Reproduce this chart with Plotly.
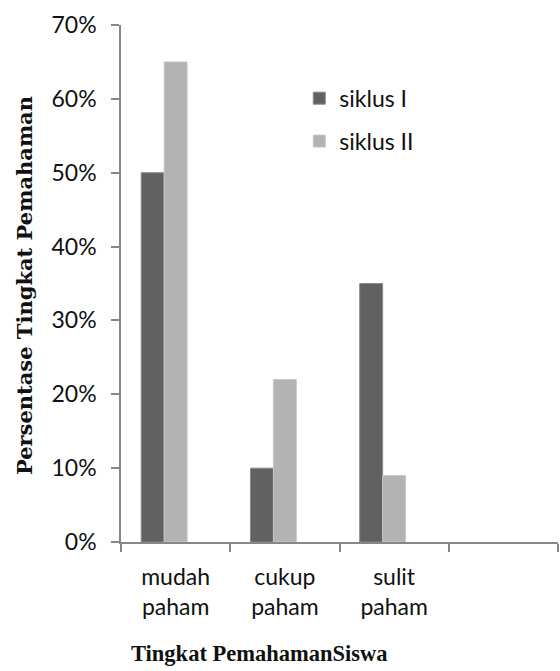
import plotly.graph_objects as go

categories = ["mudah<br>paham", "cukup<br>paham", "sulit<br>paham", " "]
siklus_1 = [0.50, 0.10, 0.35, None]
siklus_2 = [0.65, 0.22, 0.09, None]
series_3 = [None, None, None, None]  # empty third series (reserves a slot, as in the original)
y_ticks = [0, 0.1, 0.2, 0.3, 0.4, 0.5, 0.6, 0.7]
y_tick_labels = ["0%", "10%", "20%", "30%", "40%", "50%", "60%", "70%"]

tick_font = dict(family="Lato, Open Sans, sans-serif", size=23, color="#111111")
ytitle_font = dict(family="DejaVu Serif, serif", size=21, color="#111111")
xtitle_font = dict(family="Liberation Serif, serif", size=22.5, color="#111111")

fig = go.Figure()
fig.add_trace(go.Bar(x=categories, y=siklus_1, name="siklus I", legendgroup="a",
                     marker=dict(color="#616161", line=dict(color="#8a8a8a", width=1))))
fig.add_trace(go.Bar(x=categories, y=siklus_2, name="siklus II", legendgroup="b",
                     marker=dict(color="#b3b3b3", line=dict(color="#c8c8c8", width=1))))
fig.add_trace(go.Bar(x=categories, y=series_3, name="", showlegend=False,
                     marker=dict(color="#dddddd", line=dict(width=0))))

fig.update_layout(
    width=560, height=671,
    margin=dict(l=121, r=2, t=25, b=129),
    plot_bgcolor="white", paper_bgcolor="white",
    barmode="group", bargap=0.37, bargroupgap=0,
    showlegend=True,
    legend=dict(x=0.408, y=0.90, xanchor="left", yanchor="top", font=tick_font,
                tracegroupgap=10, traceorder="grouped", bgcolor="rgba(0,0,0,0)",
                itemwidth=30),
    xaxis=dict(type="category", showline=True, linecolor="#878787", linewidth=1.5,
               ticks="outside", tickson="boundaries", ticklen=8, tickcolor="#878787",
               tickwidth=1.5, tickfont=tick_font, showgrid=False, automargin=False,
               ticklabelstandoff=14),
    yaxis=dict(range=[0, 0.7], tickvals=y_ticks, ticktext=y_tick_labels,
               showline=True, linecolor="#878787", linewidth=1.5, ticks="outside",
               ticklen=8, tickcolor="#878787", tickwidth=1.5, tickfont=tick_font,
               showgrid=False, zeroline=False, ticklabelstandoff=10, automargin=False),
    annotations=[
        dict(text="<b>Persentase Tingkat Pemahaman</b>", xref="paper", yref="paper",
             x=-0.222, y=0.497, textangle=-90, showarrow=False, font=ytitle_font,
             xanchor="center", yanchor="middle"),
        dict(text="<b>Tingkat PemahamanSiswa</b>", xref="paper", yref="paper",
             x=0.316, y=-0.2166, showarrow=False, font=xtitle_font,
             xanchor="center", yanchor="middle"),
    ],
)

fig.write_html("out.html", config={"displayModeBar": False},
               post_script="document.body.style.margin='0';document.body.style.overflow='hidden';")
